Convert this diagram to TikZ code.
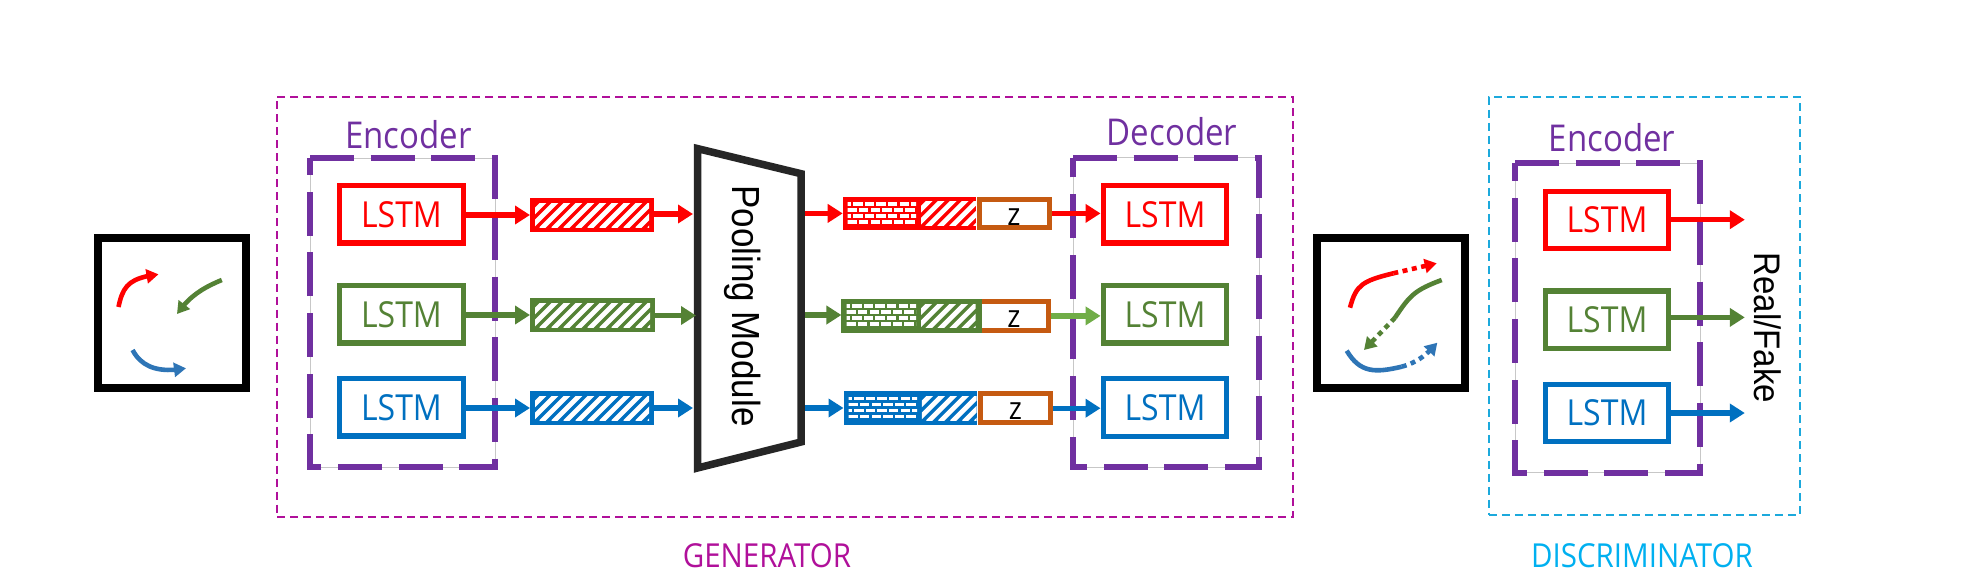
\documentclass[tikz,border=0pt]{standalone}
\usepackage{graphicx}
\usepackage{fontspec}
\setmainfont{Open Sans}
\newfontfamily\arialf{Liberation Sans}
\usetikzlibrary{arrows.meta,bending}
\definecolor{cred}{HTML}{FF0000}
\definecolor{cgreen}{HTML}{548235}
\definecolor{clight}{HTML}{70AD47}
\definecolor{cblue}{HTML}{0070C0}
\definecolor{ctraj}{HTML}{2E75B6}
\definecolor{cpurple}{HTML}{7030A0}
\definecolor{corange}{HTML}{C55A11}
\definecolor{cgen}{HTML}{B0109A}
\definecolor{cdisc}{HTML}{1CA9DC}
\definecolor{cdisct}{HTML}{00B0F0}
\definecolor{cpool}{HTML}{262626}
\newcommand{\tall}[1]{\scalebox{1}[1.12]{#1}}
\newcommand{\hatcharea}[5]{%
  \begin{scope}
    \clip (#2,#3) rectangle (#4,#5);
    \foreach \k in {0,...,14}{
      \pgfmathsetmacro{\xs}{#2-30+12*\k}
      \draw[white,line width=4.8pt] (\xs,#5+2) -- ++(#5-#3+4,-#5+#3-4);
    }
  \end{scope}}
\newcommand{\brickarea}[4]{%
  \begin{scope}
    \clip (#1,#2) rectangle (#3,#4);
    \foreach \r in {0,...,3}{
      \foreach \c in {0,...,7}{
        \pgfmathsetmacro{\bx}{#1-6+11.6*\c+(mod(\r,2)==0 ? 0 : 5.8)}
        \pgfmathsetmacro{\by}{#2+6*\r}
        \fill[white] (\bx,\by) rectangle ++(9.4,3.7);
      }
    }
  \end{scope}}
\tikzset{
  lstmbox/.style={draw=#1,text=#1,line width=5.4pt,fill=white,minimum width=123.5pt,minimum height=57.5pt,inner sep=0pt,font=\fontsize{32}{34}\selectfont},
  thinbox/.style={draw=black!22,line width=0.9pt,inner sep=0pt,outer sep=0pt},
  purpledash/.style={draw=cpurple,line width=6pt,dash pattern=on 44pt off 16.7pt},
  colfill/.style={fill=#1,inner sep=0pt,outer sep=0pt},
  zbox/.style={draw=corange,line width=5pt,fill=white,inner sep=0pt,minimum width=70pt,minimum height=28.6pt,outer sep=2.5pt},
  flowarrow/.style={draw=#1,line width=5.4pt,-{Triangle[length=15pt,width=18pt,fill=#1]}},
  trajarrow/.style={draw=#1,line width=4.6pt,-{Triangle[length=12pt,width=14pt,fill=#1,flex]}},
  trajsolid/.style={draw=#1,line width=4.6pt},
  trajdots/.style={draw=#1,line width=4.6pt,dash pattern=on 5pt off 4.5pt,-{Triangle[length=12pt,width=14pt,fill=#1,flex]}},
  frame/.style={draw=black,line width=8pt,fill=white,inner sep=0pt,minimum width=148pt,minimum height=150pt},
  heading/.style={text=cpurple,anchor=base,inner sep=0pt,font=\fontsize{33}{35}\selectfont},
  caption/.style={text=#1,anchor=base,inner sep=0pt,font=\fontsize{29.5}{31}\selectfont},
  sidetext/.style={anchor=base,rotate=-90,inner sep=0pt,text=black}
}
\begin{document}
\begin{tikzpicture}[x=1pt,y=-1pt]
\useasboundingbox (0,0) rectangle (1963,586);
\fill[white] (0,0) rectangle (1963,586);

% outer dashed regions
\node[draw=cgen,line width=2pt,dash pattern=on 8pt off 5pt,inner sep=0pt,minimum width=1016pt,minimum height=420pt] (gen) at (785,306.5) {};
\node[draw=cdisc,line width=2pt,dash pattern=on 8pt off 5pt,inner sep=0pt,minimum width=311pt,minimum height=418pt] (disc) at (1644.3,305.8) {};
\node[caption=cgen] (gentext) at (767,567) {\tall{GENERATOR}};
\node[caption=cdisct] (disctext) at (1642,567) {\tall{DISCRIMINATOR}};

% input and output scenes
\node[frame] (inframe) at (172,313) {};
\node[frame] (outframe) at (1390.5,313) {};
\draw[trajarrow=cred] (118.5,307) .. controls (123,285) and (130,278) .. (158.5,274.3);
\draw[trajarrow=cgreen] (221.8,280) .. controls (205,287) and (190,295) .. (177,314);
\draw[trajarrow=ctraj] (132.6,350) .. controls (142,368) and (160,373) .. (186,368.3);

\draw[trajsolid=cred] (1350,307.7) .. controls (1356,285) and (1362,281) .. (1393.3,273.3);
\draw[trajdots=cred] (1393.3,273.3) -- (1436.7,263.3);
\draw[trajsolid=cgreen] (1441.7,280) .. controls (1415,290) and (1410,295) .. (1395,317.7);
\draw[trajdots=cgreen] (1395,317.7) -- (1364,350);
\draw[trajsolid=ctraj] (1346.7,350.7) .. controls (1360,373) and (1375,373) .. (1401.7,366.7);
\draw[trajdots=ctraj] (1401.7,366.7) .. controls (1415,363) and (1425,357) .. (1437.3,342.7);

% generator encoder
\node[thinbox,minimum width=185pt,minimum height=309pt] (encg) at (402.5,312.5) {};
\draw[purpledash] (encg.north west) -- (encg.north east) -- (encg.south east) -- (encg.south west) -- cycle;
\node[heading] (encgt) at (408.5,148.3) {\tall{Encoder}};
\node[lstmbox=cred] (e1) at (401.5,214.4) {\tall{LSTM}};
\node[lstmbox=cgreen] (e2) at (401.5,314.2) {\tall{LSTM}};
\node[lstmbox=cblue] (e3) at (401.5,407.4) {\tall{LSTM}};

% encoded bars
\node[colfill=cred,minimum width=124pt,minimum height=34pt] (b1) at (592,215) {};
\node[colfill=cgreen,minimum width=125pt,minimum height=33.4pt] (b2) at (592.5,315) {};
\node[colfill=cblue,minimum width=124pt,minimum height=34pt] (b3) at (592,408) {};
\hatcharea{cred}{535}{203}{649}{227}
\hatcharea{cgreen}{535}{303}{650}{327}
\hatcharea{cblue}{535}{396}{649}{420}

% pooling module
\coordinate (pin1) at (693,214);
\coordinate (pin2) at (696,315.5);
\coordinate (pin3) at (693,408);
\coordinate (pout1) at (804.8,213.4);
\coordinate (pout2) at (804.8,315);
\coordinate (pout3) at (804.8,408);
\draw[cpool,line width=7.5pt,fill=white,miter limit=10] (697.5,148.6) -- (801,173.7) -- (801,442) -- (697.5,468) -- cycle;
\node[sidetext,font=\arialf\fontsize{35}{37}\selectfont] (pooltext) at (732,306) {\tall{Pooling Module}};

% decoder
\node[thinbox,minimum width=186pt,minimum height=309.5pt] (decg) at (1166,312.25) {};
\draw[purpledash] (decg.north west) -- (decg.north east) -- (decg.south east) -- (decg.south west) -- cycle;
\node[heading] (decgt) at (1172,145.6) {\tall{Decoder}};
\node[lstmbox=cred] (d1) at (1165,214.3) {\tall{LSTM}};
\node[lstmbox=cgreen] (d2) at (1165,314.2) {\tall{LSTM}};
\node[lstmbox=cblue] (d3) at (1165,407.5) {\tall{LSTM}};

% composite bars
\node[zbox] (z1) at (1014.2,213.4) {};
\node[zbox] (z2) at (1013.2,315.9) {};
\node[zbox] (z3) at (1015.2,408.2) {};
\node[colfill=cred,minimum width=133.3pt,minimum height=33.8pt] (c1) at (909.35,213.4) {};
\node[colfill=cgreen,minimum width=140.1pt,minimum height=33.8pt] (c2) at (911.45,315.9) {};
\node[colfill=cblue,minimum width=133.5pt,minimum height=33.5pt] (c3) at (910.25,408.2) {};
\brickarea{847.5}{201.8}{916}{225.5}
\brickarea{846.5}{304.3}{916}{328}
\brickarea{848.5}{396.5}{917}{420.2}
\hatcharea{cred}{921}{201.5}{976}{225.3}
\hatcharea{cgreen}{921}{304}{975.6}{327.8}
\hatcharea{cblue}{921.8}{396.4}{976.5}{420}
\node[anchor=base,inner sep=0pt,font=\fontsize{28}{30}\selectfont] (zt1) at (1014,225) {\tall{z}};
\node[anchor=base,inner sep=0pt,font=\fontsize{28}{30}\selectfont] (zt2) at (1014,327.5) {\tall{z}};
\node[anchor=base,inner sep=0pt,font=\fontsize{28}{30}\selectfont] (zt3) at (1015.5,419.5) {\tall{z}};

% discriminator encoder
\node[thinbox,minimum width=185pt,minimum height=309.5pt] (encd) at (1607.5,317.75) {};
\draw[purpledash] (encd.north west) -- (encd.north east) -- (encd.south east) -- (encd.south west) -- cycle;
\node[heading] (encdt) at (1612,151.3) {\tall{Encoder}};
\node[lstmbox=cred] (r1) at (1607,220) {\tall{LSTM}};
\node[lstmbox=cgreen] (r2) at (1607,319.6) {\tall{LSTM}};
\node[lstmbox=cblue] (r3) at (1607,413) {\tall{LSTM}};
\coordinate (o1) at (1744.8,219.7);
\coordinate (o2) at (1744.8,317.4);
\coordinate (o3) at (1744.8,413);
\node[sidetext,font=\arialf\fontsize{33}{35}\selectfont] (rf) at (1754.5,328) {\tall{Real/Fake}};

% connectors
\draw[flowarrow=cred] (e1.east |- b1.west) -- (b1.west);
\draw[flowarrow=cgreen] (e2.east |- b2.west) -- (b2.west);
\draw[flowarrow=cblue] (e3.east |- b3.west) -- (b3.west);
\draw[flowarrow=cred] (b1.east |- pin1) -- (pin1);
\draw[flowarrow=cgreen] (b2.east |- pin2) -- (pin2);
\draw[flowarrow=cblue] (b3.east |- pin3) -- (pin3);
\draw[flowarrow=cred] (pout1) -- (c1.west |- pout1);
\draw[flowarrow=cgreen] (pout2) -- (c2.west |- pout2);
\draw[flowarrow=cblue] (pout3) -- (c3.west |- pout3);
\draw[flowarrow=cred] (z1.east) -- (d1.west |- z1.east);
\draw[flowarrow=clight] (z2.east) -- (d2.west |- z2.east);
\draw[flowarrow=cblue] (z3.east) -- (d3.west |- z3.east);
\draw[flowarrow=cred] (r1.east |- o1) -- (o1);
\draw[flowarrow=cgreen] (r2.east |- o2) -- (o2);
\draw[flowarrow=cblue] (r3.east) -- (o3);
\end{tikzpicture}
\end{document}
